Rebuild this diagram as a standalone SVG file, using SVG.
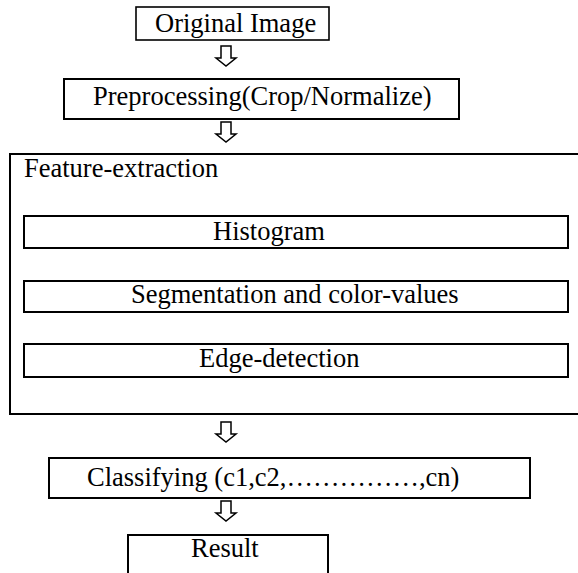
<svg xmlns="http://www.w3.org/2000/svg" width="578" height="573" viewBox="0 0 578 573">
<style>
  .box { fill: #ffffff; stroke: #000000; stroke-width: 2; }
  .txt { font-family: "Liberation Serif", "Times New Roman", serif; font-size: 26.5px; fill: #000000; }
  .arrow { fill: #ffffff; stroke: #000000; stroke-width: 1.5; stroke-linejoin: miter; }
</style>
<defs>
  <path id="downArrow" class="arrow" d="M -5 0 L 5 0 L 5 12 L 10 12 L 0 20 L -10 12 L -5 12 Z"/>
</defs>
<rect width="578" height="573" fill="#ffffff"/>

<g id="connectors">
  <use href="#downArrow" x="226" y="46"/>
  <use href="#downArrow" x="226" y="122"/>
  <use href="#downArrow" x="226" y="422"/>
  <use href="#downArrow" x="226" y="501"/>
</g>

<g id="original-image">
  <rect class="box" x="136" y="7" width="193" height="33" style="stroke-width:1.6"/>
  <text class="txt" x="155" y="32">Original Image</text>
</g>

<g id="preprocessing">
  <rect class="box" x="64" y="79" width="395" height="40"/>
  <text class="txt" x="93" y="105">Preprocessing(Crop/Normalize)</text>
</g>

<g id="feature-extraction">
  <rect class="box" x="10" y="154" width="575" height="260"/>
  <text class="txt" x="24" y="177">Feature-extraction</text>
</g>

<g id="histogram">
  <rect class="box" x="24" y="216" width="544" height="32"/>
  <text class="txt" x="213" y="240">Histogram</text>
</g>

<g id="segmentation">
  <rect class="box" x="24" y="281" width="544" height="31"/>
  <text class="txt" x="131" y="303">Segmentation and color-values</text>
</g>

<g id="edge-detection">
  <rect class="box" x="24" y="344" width="544" height="33"/>
  <text class="txt" x="199" y="367">Edge-detection</text>
</g>

<g id="classifying">
  <rect class="box" x="49" y="458" width="481" height="40"/>
  <text class="txt" x="87" y="486">Classifying (c1,c2,……………,cn)</text>
</g>

<g id="result">
  <rect class="box" x="128" y="535" width="200" height="50"/>
  <text class="txt" x="191" y="557">Result</text>
</g>
</svg>
